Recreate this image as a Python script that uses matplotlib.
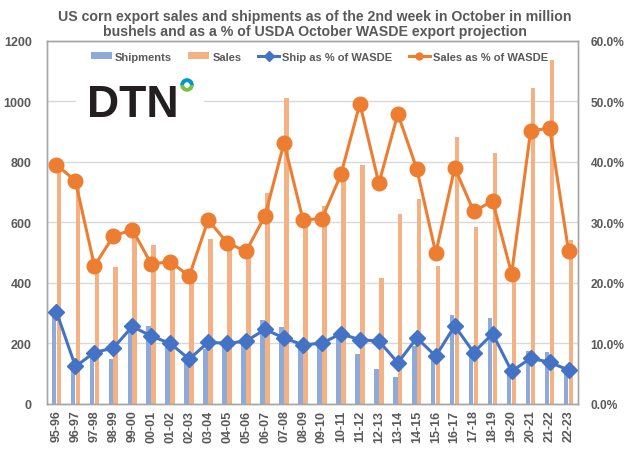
import matplotlib
matplotlib.use("Agg")
import matplotlib.pyplot as plt
import numpy as np
from matplotlib.patches import Wedge, Rectangle
from matplotlib.transforms import IdentityTransform

plt.rcParams['font.family'] = ['Liberation Sans', 'DejaVu Sans']

seasons = ["95-96", "96-97", "97-98", "98-99", "99-00", "00-01", "01-02", "02-03",
           "03-04", "04-05", "05-06", "06-07", "07-08", "08-09", "09-10", "10-11",
           "11-12", "12-13", "13-14", "14-15", "15-16", "16-17", "17-18", "18-19",
           "19-20", "20-21", "21-22", "22-23"]
shipments = [300, 120, 160, 148, 245, 257, 198, 140, 182, 195, 205, 277, 254, 190,
             212, 224, 165, 115, 90, 192, 150, 293, 159, 284, 100, 175, 171, 105]
sales = [780, 718, 440, 451, 560, 525, 460, 420, 544, 520, 500, 696, 1009, 600,
         654, 740, 788, 415, 626, 676, 454, 883, 585, 828, 407, 1042, 1134, 541]
ship_pct = [15.2, 6.2, 8.5, 9.25, 12.8, 11.2, 10.0, 7.4, 10.2, 10.0, 10.4, 12.3, 10.9, 9.75,
            10.05, 11.6, 10.6, 10.4, 6.8, 10.9, 7.9, 12.9, 8.5, 11.6, 5.4, 7.55, 6.9, 5.6]
sales_pct = [39.5, 36.8, 22.8, 27.7, 28.8, 23.1, 23.5, 21.1, 30.4, 26.6, 25.2, 31.1, 43.1, 30.4,
             30.6, 37.9, 49.6, 36.4, 47.9, 38.8, 24.9, 39.0, 31.8, 33.5, 21.5, 45.0, 45.6, 25.3]
left_ticks = [0, 200, 400, 600, 800, 1000, 1200]
right_ticks = [0, 10, 20, 30, 40, 50, 60]

title = ("US corn export sales and shipments as of the 2nd week in October in million\n"
         "bushels and as a % of USDA October WASDE export projection")

gray = "#595959"
spine_c = "#a6a6a6"
c_ship_bar = "#8eaadb"
c_sales_bar = "#f4b183"
c_ship_line = "#4472c4"
c_sales_line = "#ed7d31"

fig = plt.figure(figsize=(6.4, 4.6), dpi=100)
fig.patch.set_facecolor("white")
ax = fig.add_axes([47/640, 55/460, 531/640, 363.5/460])
ax2 = ax.twinx()

x = np.arange(len(seasons))
w = 0.24
ax.bar(x - 0.135, shipments, width=w, color=c_ship_bar, label="Shipments", zorder=2)
ax.bar(x + 0.125, sales, width=w, color=c_sales_bar, label="Sales", zorder=2)

l1, = ax2.plot(x, ship_pct, color=c_ship_line, lw=2.2, marker="D", ms=8,
               label="Ship as % of WASDE", zorder=3)
l2, = ax2.plot(x, sales_pct, color=c_sales_line, lw=2.2, marker="o", ms=10.5,
               label="Sales as % of WASDE", zorder=3)

ax.set_xlim(-0.5, len(seasons) - 0.5)
ax.set_ylim(0, 1200)
ax2.set_ylim(0, 60)
ax.set_yticks(left_ticks)
ax.set_yticklabels([str(t) for t in left_ticks])
ax2.set_yticks(right_ticks)
ax2.set_yticklabels([f"{t:.1f}%" for t in right_ticks])
ax.set_xticks(x)
ax.set_xticklabels(seasons, rotation=90)

for a in (ax, ax2):
    for s in a.spines.values():
        s.set_color(spine_c)
        s.set_linewidth(1.0)
ax.tick_params(axis="both", length=0, colors=gray, labelsize=9)
ax.tick_params(axis="y", pad=11)
ax.tick_params(axis="x", pad=4)
ax2.tick_params(axis="y", length=0, colors=gray, labelsize=8.6, pad=9)
for lab in ax.get_xticklabels() + ax.get_yticklabels() + ax2.get_yticklabels():
    lab.set_fontweight("bold")
    lab.set_color(gray)

ax.grid(axis="y", color="#d9d9d9", lw=1.0, zorder=0)
ax.set_axisbelow(True)
ax.set_zorder(1)
ax2.set_zorder(2)
ax.patch.set_visible(False)

# logo block
ax.add_patch(Rectangle((0.055, 0.78), 0.24, 0.1, transform=ax.transAxes,
                       facecolor="white", edgecolor="none", zorder=1.5))
fig.text(87/640, 1 - 117/460, "DTN", fontsize=32, fontweight="bold", color="#231f20",
         ha="left", va="baseline", family=["Liberation Sans", "DejaVu Sans"])
cx, cy = 187/640 * 640, (1 - 86/460) * 460
fig.patches.append(Wedge((cx, cy), 6.8, 0, 180, width=4.0, facecolor="#0096d6",
                         transform=IdentityTransform(), figure=fig))
fig.patches.append(Wedge((cx, cy), 6.8, 180, 360, width=4.0, facecolor="#7ac143",
                         transform=IdentityTransform(), figure=fig))

handles = [ax.containers[0], ax.containers[1], l1, l2]
labels = ["Shipments", "Sales", "Ship as % of WASDE", "Sales as % of WASDE"]
leg = ax2.legend(handles, labels, loc="upper center", bbox_to_anchor=(0.513, 0.995),
                 ncol=4, frameon=False, handlelength=1.9, handletextpad=0.3,
                 columnspacing=1.45, prop={"weight": "bold", "size": 8})
for t in leg.get_texts():
    t.set_color(gray)
for h in leg.legend_handles[2:]:
    h.set_markersize(5)
for h in leg.legend_handles[:2]:
    h.set_height(5)
    h.set_y(h.get_y() + 1)

fig.text(0.492, 1 - 10/460, title, ha="center", va="top", fontsize=10.2,
         fontweight="bold", color=gray, linespacing=1.12)

fig.savefig("out.png", dpi=100, facecolor="white")
